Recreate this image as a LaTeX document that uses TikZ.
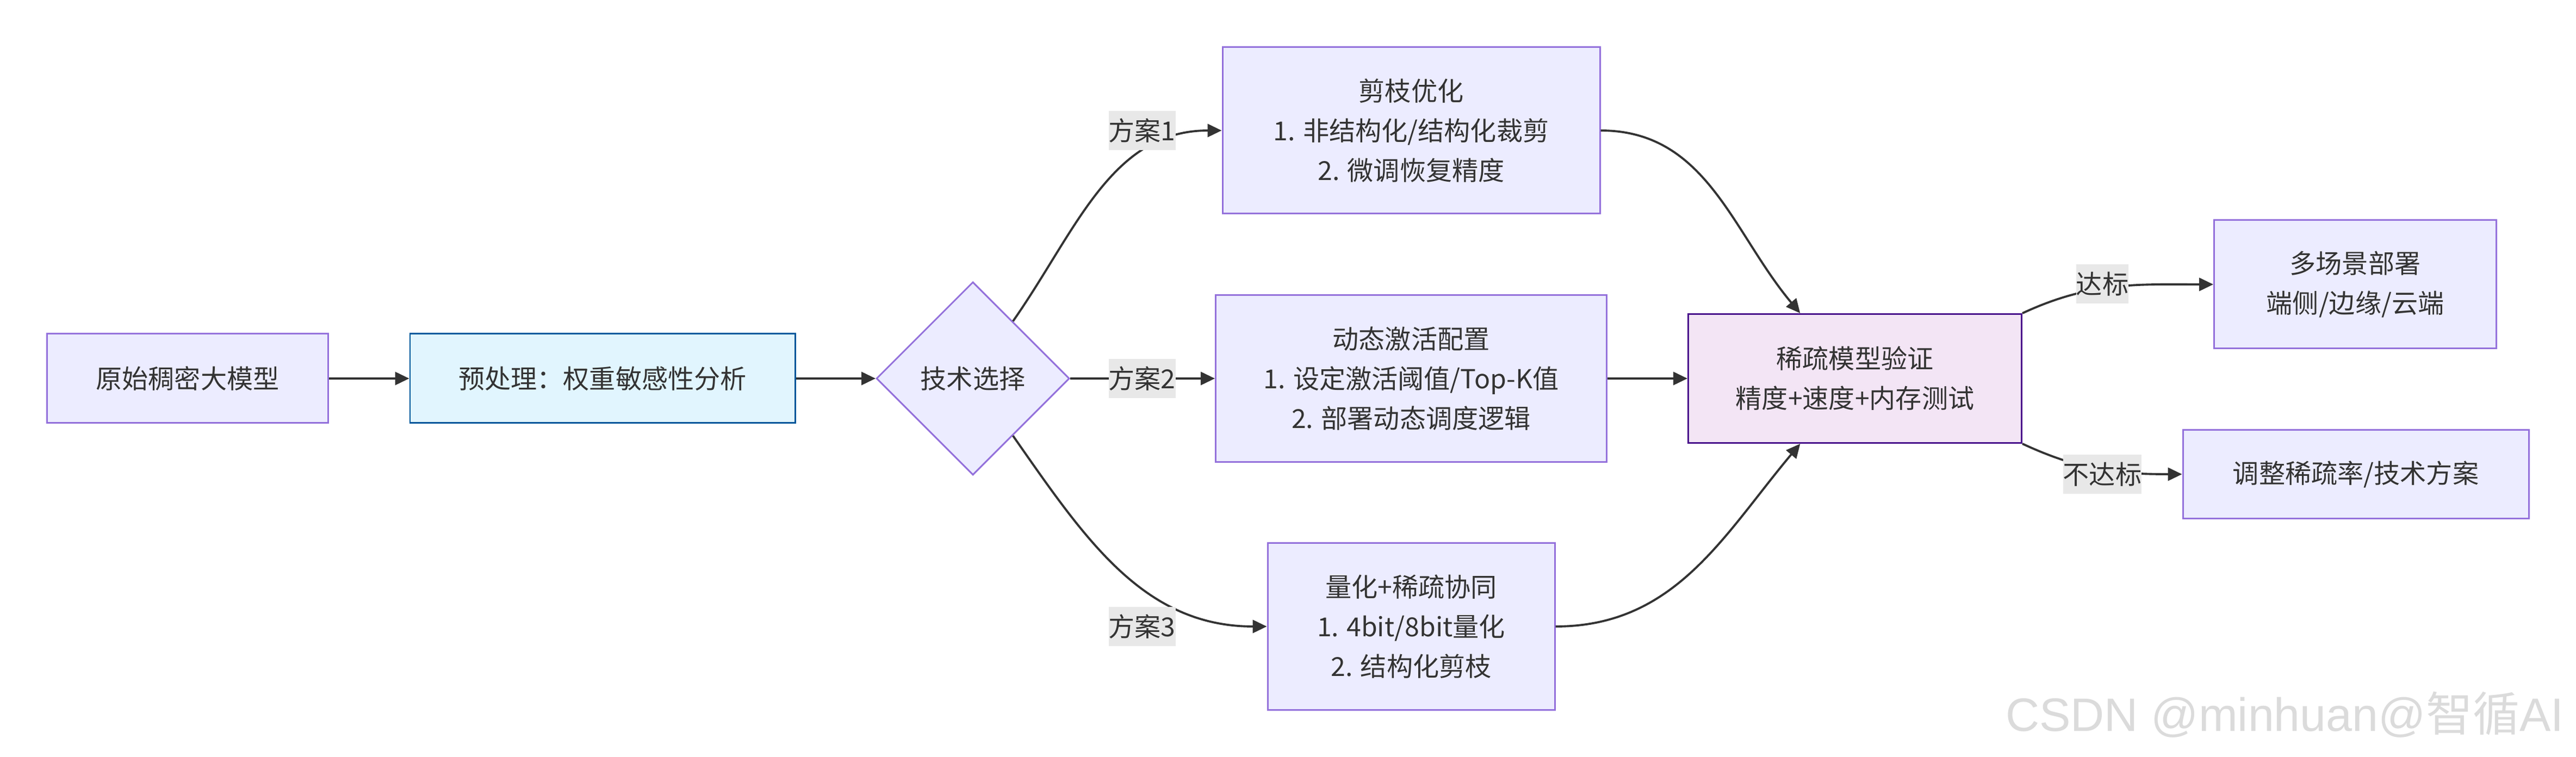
\documentclass[tikz,border=0pt]{standalone}
\usepackage{fontspec}
\setmainfont{Noto Sans CJK SC}
\newfontfamily\wmlatin{Liberation Sans}
\usepackage{xcolor}
\usepackage{tikz}
\usetikzlibrary{shapes.geometric, arrows.meta}

\begin{document}
\begin{tikzpicture}[node distance=2cm, font=\fontsize{13.7pt}{20.8pt}\selectfont]
	\definecolor{mmfill}{HTML}{ECECFF}
	\definecolor{mmstroke}{HTML}{9370DB}
	\definecolor{prefill}{HTML}{E1F5FE}
	\definecolor{prestroke}{HTML}{01579B}
	\definecolor{verfill}{HTML}{F3E5F5}
	\definecolor{verstroke}{HTML}{4A148C}
	\definecolor{lblgray}{HTML}{E8E8E8}
	\definecolor{txtgray}{HTML}{333333}
	\tikzstyle{process} = [rectangle, minimum height=1.64cm, inner sep=0pt, align=center, text=txtgray, draw=mmstroke, fill=mmfill, line width=0.85pt]
	\tikzstyle{decision} = [diamond, minimum width=3.55cm, minimum height=3.55cm, inner sep=0pt, text=txtgray, draw=mmstroke, fill=mmfill, line width=0.85pt]
	\tikzstyle{plan} = [rectangle, fill=lblgray, inner sep=0pt, minimum height=0.72cm, text=txtgray]
	\tikzstyle{arrow} = [-{Triangle[length=2.6mm, width=2.4mm]}, draw=txtgray, line width=1.1pt]

	\path [use as bounding box, fill=white] (-3.45,-6.96) rectangle (43.92,6.96);

	\node (orig) [process, minimum width=5.17cm] {原始稠密大模型};
	\node (prep) [process, right of=orig, xshift=5.63cm, minimum width=7.08cm, fill=prefill, draw=prestroke] {预处理：权重敏感性分析};
	\node (techsel) [decision, right of=prep, xshift=4.81cm] {技术选择};
	\node (prune) [process, right of=techsel, xshift=6.06cm, yshift=4.56cm, minimum width=6.94cm, minimum height=3.06cm] {剪枝优化\\1. 非结构化/结构化裁剪\\2. 微调恢复精度};
	\node (dynact) [process, right of=techsel, xshift=6.06cm, minimum width=7.19cm, minimum height=3.07cm] {动态激活配置\\1. 设定激活阈值/Top-K值\\2. 部署动态调度逻辑};
	\node (quant) [process, right of=techsel, xshift=6.06cm, yshift=-4.56cm, minimum width=5.28cm, minimum height=3.07cm] {量化+稀疏协同\\1. 4bit/8bit量化\\2. 结构化剪枝};
	\node (verify) [process, right of=dynact, xshift=6.16cm, minimum width=6.13cm, minimum height=2.37cm, fill=verfill, draw=verstroke] {稀疏模型验证\\精度+速度+内存测试};
	\node (deploy) [process, right of=verify, xshift=7.2cm, yshift=1.73cm, minimum width=5.19cm, minimum height=2.36cm] {多场景部署\\端侧/边缘/云端};
	\node (adjust) [process, right of=verify, xshift=7.21cm, yshift=-1.76cm, minimum width=6.36cm, minimum height=1.63cm] {调整稀疏率/技术方案};

	\draw [arrow] (orig) -- (prep);
	\draw [arrow] (prep) -- (techsel);
	\draw [arrow] (techsel) to[out=55, in=180] (prune);
	\draw [arrow] (techsel) -- (dynact);
	\draw [arrow] (techsel) to[out=-55, in=180] (quant);
	\draw [arrow] (prune) to[out=0, in=130] (verify);
	\draw [arrow] (dynact) -- (verify);
	\draw [arrow] (quant) to[out=0, in=-130] (verify);
	\draw [arrow] (verify.north east) to[out=25, in=180] (deploy);
	\draw [arrow] (verify.south east) to[out=-25, in=180] (adjust);

	% labels on the edges
	\node (plan1) [plan, right of=techsel, xshift=1.11cm, yshift=4.56cm] {方案1};
	\node (plan2) [plan, right of=techsel, xshift=1.11cm] {方案2};
	\node (plan3) [plan, right of=techsel, xshift=1.11cm, yshift=-4.56cm] {方案3};
	\node (pass) [plan, right of=verify, xshift=2.55cm, yshift=1.74cm] {达标};
	\node (fail) [plan, right of=verify, xshift=2.55cm, yshift=-1.76cm] {不达标};

	\node (mark) [anchor=base east, text=black!14, font=\fontsize{24.5pt}{28pt}\selectfont] at (43.82,-6.49) {\wmlatin CSDN @minhuan@\rmfamily 智循\wmlatin AI};
\end{tikzpicture}
\end{document}
